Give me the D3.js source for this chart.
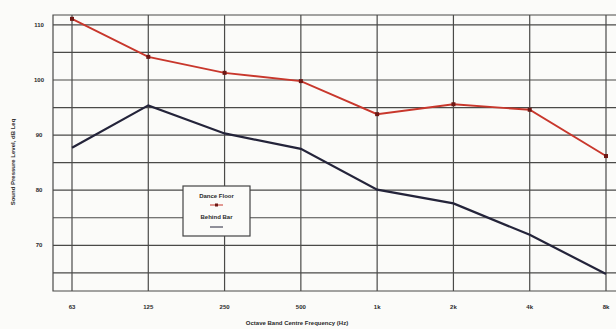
<!DOCTYPE html>
<html>
<head>
<meta charset="utf-8">
<script src="https://cdn.jsdelivr.net/npm/d3@7"></script>
<style>
  body { margin: 0; background: #fbfbf9; }
  svg { display: block; font-family: "Liberation Sans", Arial, sans-serif; }
</style>
</head>
<body>
<svg id="chart" width="616" height="329"></svg>
<script>
// octave band centres
const bands = ["63", "125", "250", "500", "1k", "2k", "4k", "8k"];
// dB Leq
const danceFloor = [111.1, 104.2, 101.3, 99.8, 93.8, 95.6, 94.6, 86.2];
const behindBar = [87.7, 95.4, 90.3, 87.5, 80.1, 77.6, 71.9, 64.8];
const gridLevels = [65, 70, 75, 80, 85, 90, 95, 100, 105, 110];
const tickLevels = [70, 80, 90, 100, 110];

const svg = d3.select("#chart");
const plot = { left: 53, right: 618, top: 15, bottom: 291 };

const x = d3.scalePoint().domain(bands).range([72, 606]);
const y = d3.scaleLinear().domain([61.7, 111.8]).range([plot.bottom, plot.top]);

const grid = svg.append("g").attr("stroke", "#4a4a48").attr("stroke-width", 1.2);

grid.selectAll("line.h")
  .data(gridLevels)
  .join("line")
  .attr("class", "h")
  .attr("x1", plot.left).attr("x2", plot.right)
  .attr("y1", d => y(d)).attr("y2", d => y(d));

grid.selectAll("line.v")
  .data(bands)
  .join("line")
  .attr("class", "v")
  .attr("x1", d => x(d)).attr("x2", d => x(d))
  .attr("y1", plot.top).attr("y2", plot.bottom);

// frame
grid.append("path")
  .attr("fill", "none")
  .attr("d", `M${plot.right},${plot.top}H${plot.left}V${plot.bottom}H${plot.right}`);

// y tick labels
svg.append("g")
  .selectAll("text")
  .data(tickLevels)
  .join("text")
  .attr("x", 39)
  .attr("y", d => y(d))
  .attr("dy", "0.35em")
  .attr("text-anchor", "middle")
  .attr("font-size", 6)
  .attr("font-weight", "bold")
  .attr("fill", "#2a2a2a")
  .text(d => d);

// x tick labels
svg.append("g")
  .selectAll("text")
  .data(bands)
  .join("text")
  .attr("x", d => x(d))
  .attr("y", 309)
  .attr("text-anchor", "middle")
  .attr("font-size", 6)
  .attr("font-weight", "bold")
  .attr("fill", "#2a2a2a")
  .text(d => d);

svg.append("text")
  .attr("x", 297).attr("y", 325)
  .attr("text-anchor", "middle")
  .attr("font-size", 6)
  .attr("font-weight", "bold")
  .attr("fill", "#2a2a2a")
  .text("Octave Band Centre Frequency (Hz)");

svg.append("text")
  .attr("transform", "translate(15,162) rotate(-90)")
  .attr("text-anchor", "middle")
  .attr("font-size", 6)
  .attr("font-weight", "bold")
  .attr("fill", "#2a2a2a")
  .text("Sound Pressure Level, dB Leq");

const line = d3.line().x((d, i) => x(bands[i])).y(d => y(d));

svg.append("path")
  .datum(behindBar)
  .attr("fill", "none")
  .attr("stroke", "#24243a")
  .attr("stroke-width", 2.2)
  .attr("d", line);

svg.append("path")
  .datum(danceFloor)
  .attr("fill", "none")
  .attr("stroke", "#c8372c")
  .attr("stroke-width", 1.9)
  .attr("d", line);

svg.append("g")
  .selectAll("rect")
  .data(danceFloor)
  .join("rect")
  .attr("x", (d, i) => x(bands[i]) - 2)
  .attr("y", d => y(d) - 2)
  .attr("width", 4).attr("height", 4)
  .attr("fill", "#6e1814");

// legend
const legend = svg.append("g").attr("transform", "translate(183,186)");
legend.append("rect")
  .attr("width", 67).attr("height", 50)
  .attr("fill", "#fbfbf9")
  .attr("stroke", "#444").attr("stroke-width", 1.2);
legend.append("text")
  .attr("x", 33.5).attr("y", 12)
  .attr("text-anchor", "middle")
  .attr("font-size", 6).attr("font-weight", "bold").attr("fill", "#2a2a2a")
  .text("Dance Floor");
legend.append("line")
  .attr("x1", 27).attr("x2", 40).attr("y1", 19).attr("y2", 19)
  .attr("stroke", "#c8372c").attr("stroke-width", 1);
legend.append("rect")
  .attr("x", 32).attr("y", 17.5).attr("width", 3).attr("height", 3)
  .attr("fill", "#6e1814");
legend.append("text")
  .attr("x", 33.5).attr("y", 33)
  .attr("text-anchor", "middle")
  .attr("font-size", 6).attr("font-weight", "bold").attr("fill", "#2a2a2a")
  .text("Behind Bar");
legend.append("line")
  .attr("x1", 27).attr("x2", 40).attr("y1", 41).attr("y2", 41)
  .attr("stroke", "#24243a").attr("stroke-width", 1);
</script>
</body>
</html>
